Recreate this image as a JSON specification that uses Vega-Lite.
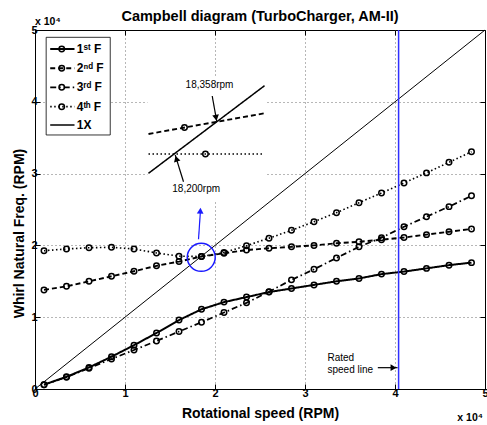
{
  "$schema": "https://vega.github.io/schema/vega-lite/v6.json",
  "width": 450,
  "height": 359,
  "autosize": {"type": "none"},
  "padding": {"left": 35, "top": 30, "right": 2, "bottom": 36},
  "background": "white",
  "title": {"text": "Campbell diagram (TurboCharger, AM-II)", "fontSize": 14.5, "fontWeight": "bold", "color": "black", "frame": "group", "anchor": "middle", "offset": -7},
  "config": {
    "font": "Liberation Sans",
    "view": {"stroke": "black", "strokeWidth": 1},
    "axis": {"domainColor": "black", "tickColor": "black", "labelColor": "black", "titleColor": "black", "labelFontSize": 11, "labelFontWeight": "bold", "titleFontSize": 14, "titleFontWeight": "bold", "labelFlush": false, "labelOverlap": false}
  },
  "datasets": {
    "curves": [
      {"x": 1000, "1st F": 600, "2nd F": 13800, "3rd F": 600, "4th F": 19260},
      {"x": 3500, "1st F": 1700, "2nd F": 14300, "3rd F": 1650, "4th F": 19500},
      {"x": 6000, "1st F": 3000, "2nd F": 15000, "3rd F": 2900, "4th F": 19680},
      {"x": 8500, "1st F": 4500, "2nd F": 15700, "3rd F": 4180, "4th F": 19730},
      {"x": 11000, "1st F": 6100, "2nd F": 16400, "3rd F": 5430, "4th F": 19500},
      {"x": 13500, "1st F": 7800, "2nd F": 17150, "3rd F": 6690, "4th F": 18950},
      {"x": 16000, "1st F": 9600, "2nd F": 17750, "3rd F": 8000, "4th F": 18500},
      {"x": 18500, "1st F": 11100, "2nd F": 18450, "3rd F": 9300, "4th F": 18450},
      {"x": 21000, "1st F": 12100, "2nd F": 18900, "3rd F": 10650, "4th F": 19000},
      {"x": 23500, "1st F": 12800, "2nd F": 19350, "3rd F": 12000, "4th F": 19960},
      {"x": 26000, "1st F": 13500, "2nd F": 19600, "3rd F": 13550, "4th F": 21000},
      {"x": 28500, "1st F": 14000, "2nd F": 19800, "3rd F": 15200, "4th F": 22100},
      {"x": 31000, "1st F": 14500, "2nd F": 20000, "3rd F": 16670, "4th F": 23300},
      {"x": 33500, "1st F": 15000, "2nd F": 20300, "3rd F": 18250, "4th F": 24560},
      {"x": 36000, "1st F": 15400, "2nd F": 20500, "3rd F": 19800, "4th F": 25950},
      {"x": 38500, "1st F": 16000, "2nd F": 20800, "3rd F": 21070, "4th F": 27300},
      {"x": 41000, "1st F": 16350, "2nd F": 21100, "3rd F": 22600, "4th F": 28700},
      {"x": 43500, "1st F": 16800, "2nd F": 21500, "3rd F": 24000, "4th F": 30100},
      {"x": 46000, "1st F": 17250, "2nd F": 21900, "3rd F": 25400, "4th F": 31570},
      {"x": 48500, "1st F": 17600, "2nd F": 22300, "3rd F": 26900, "4th F": 33050}
    ],
    "legend": [
      {"series": "1st F", "label": "1ˢᵗ F", "y": 47350, "x1": 1690, "x2": 4390, "xm": 2970, "xt": 4640},
      {"series": "2nd F", "label": "2ⁿᵈ F", "y": 44670, "x1": 1690, "x2": 4390, "xm": 2970, "xt": 4640},
      {"series": "3rd F", "label": "3ʳᵈ F", "y": 42020, "x1": 1690, "x2": 4390, "xm": 2970, "xt": 4640},
      {"series": "4th F", "label": "4ᵗʰ F", "y": 39320, "x1": 1690, "x2": 4390, "xm": 2970, "xt": 4640},
      {"series": "1X", "label": "1X", "y": 36770, "x1": 1690, "x2": 4390, "xm": 2970, "xt": 4640}
    ],
    "boxes": [
      {"box": "inset", "x": 12500, "x2": 25700, "y": 26300, "y2": 43600},
      {"box": "legend", "x": 1240, "x2": 8360, "y": 35380, "y2": 48980}
    ],
    "inset": [
      {"series": "2nd F", "x": 12610, "y": 35520},
      {"series": "2nd F", "x": 25500, "y": 38400},
      {"series": "4th F", "x": 12610, "y": 32730},
      {"series": "4th F", "x": 25500, "y": 32730},
      {"series": "1X", "x": 12610, "y": 30040},
      {"series": "1X", "x": 25500, "y": 42240}
    ],
    "arrows": [
      {"arrow": "a18358", "colour": "black", "x": 19690, "y": 40810},
      {"arrow": "a18358", "colour": "black", "x": 20200, "y": 37230},
      {"arrow": "a18200", "colour": "black", "x": 16500, "y": 28870},
      {"arrow": "a18200", "colour": "black", "x": 15580, "y": 32590},
      {"arrow": "rated", "colour": "black", "x": 38090, "y": 2970},
      {"arrow": "rated", "colour": "black", "x": 40280, "y": 2970},
      {"arrow": "veer", "colour": "blue", "x": 18170, "y": 20850},
      {"arrow": "veer", "colour": "blue", "x": 18370, "y": 24600}
    ],
    "heads": [
      {"arrow": "a18358", "colour": "black", "x": 20120, "y": 37770, "angle": 170},
      {"arrow": "a18200", "colour": "black", "x": 15710, "y": 32060, "angle": 343},
      {"arrow": "rated", "colour": "black", "x": 39830, "y": 2970, "angle": 90},
      {"arrow": "veer", "colour": "blue", "x": 18370, "y": 24830, "angle": 3.5}
    ],
    "notes": [
      {"label": "18,358rpm", "x": 19390, "y": 42340},
      {"label": "18,200rpm", "x": 17910, "y": 27810},
      {"label": "Rated", "x": 32500, "y": 4280},
      {"label": "speed line", "x": 32500, "y": 2650}
    ],
    "exps": [
      {"label": "x 10⁴", "corner": "top-left", "x": 0, "y": 50000},
      {"label": "x 10⁴", "corner": "bottom-right", "x": 50000, "y": 0}
    ]
  },
  "layer": [
    {
      "data": {"values": [{"x": 0, "y": 0}, {"x": 50000, "y": 50000}]},
      "mark": {"type": "line", "color": "black", "strokeWidth": 1},
      "encoding": {
        "x": {"field": "x", "type": "quantitative", "scale": {"domain": [0, 50000], "nice": false, "zero": false},
          "axis": {"orient": "bottom", "title": "Rotational speed (RPM)", "values": [0, 10000, 20000, 30000, 40000, 50000], "labelExpr": "datum.value / 10000", "grid": true, "gridColor": "#6e6e6e", "gridDash": [1, 3], "gridOpacity": {"condition": {"test": "datum.value == 0 || datum.value == 50000", "value": 0}, "value": 1}, "tickSize": -5, "labelPadding": 3, "titlePadding": 8}},
        "y": {"field": "y", "type": "quantitative", "scale": {"domain": [0, 50000], "nice": false, "zero": false},
          "axis": {"orient": "left", "title": "Whirl Natural Freq. (RPM)", "titleY": 203, "values": [0, 10000, 20000, 30000, 40000, 50000], "labelExpr": "datum.value / 10000", "grid": true, "gridColor": "#6e6e6e", "gridDash": [1, 3], "gridOpacity": {"condition": {"test": "datum.value == 0 || datum.value == 50000", "value": 0}, "value": 1}, "tickSize": -5, "labelPadding": 3, "titlePadding": 4}}
      }
    },
    {
      "data": {"values": [{"x": 0, "y": 0}]},
      "mark": {"type": "point", "opacity": 0},
      "encoding": {
        "x": {"field": "x", "type": "quantitative", "scale": {"domain": [0, 50000], "nice": false, "zero": false}, "axis": {"orient": "top", "labels": false, "title": null, "grid": false, "domain": false, "values": [0, 10000, 20000, 30000, 40000, 50000], "tickSize": -5}},
        "y": {"field": "y", "type": "quantitative", "scale": {"domain": [0, 50000], "nice": false, "zero": false}, "axis": {"orient": "right", "labels": false, "title": null, "grid": false, "domain": false, "values": [0, 10000, 20000, 30000, 40000, 50000], "tickSize": -5}}
      }
    },
    {
      "data": {"name": "boxes"},
      "transform": [{"filter": "datum.box == 'inset'"}],
      "mark": {"type": "rect", "fill": "white", "strokeWidth": 0},
      "encoding": {
        "x": {"field": "x", "type": "quantitative", "scale": {"domain": [0, 50000], "nice": false, "zero": false}, "axis": null},
        "x2": {"field": "x2"},
        "y": {"field": "y", "type": "quantitative", "scale": {"domain": [0, 50000], "nice": false, "zero": false}, "axis": null},
        "y2": {"field": "y2"}
      }
    },
    {
      "data": {"name": "curves"},
      "transform": [{"fold": ["1st F", "2nd F", "3rd F", "4th F"], "as": ["series", "y"]}],
      "mark": {"type": "line", "color": "black"},
      "encoding": {
        "x": {"field": "x", "type": "quantitative", "scale": {"domain": [0, 50000], "nice": false, "zero": false}, "axis": null},
        "y": {"field": "y", "type": "quantitative", "scale": {"domain": [0, 50000], "nice": false, "zero": false}, "axis": null},
        "strokeDash": {"field": "series", "type": "nominal", "scale": {"domain": ["1st F", "2nd F", "3rd F", "4th F", "1X"], "range": [[1, 0], [5, 3], [6, 3, 1.5, 3], [1.5, 2.5], [1, 0]]}, "legend": null},
        "strokeWidth": {"field": "series", "type": "nominal", "scale": {"domain": ["1st F", "2nd F", "3rd F", "4th F", "1X"], "range": [2, 1.5, 1.5, 1.5, 1.2]}, "legend": null}
      }
    },
    {
      "data": {"name": "curves"},
      "transform": [{"fold": ["1st F", "2nd F", "3rd F", "4th F"], "as": ["series", "y"]}],
      "mark": {"type": "point", "shape": "circle", "filled": false, "color": "black", "size": 30, "strokeWidth": 1.5, "opacity": 1},
      "encoding": {
        "x": {"field": "x", "type": "quantitative", "scale": {"domain": [0, 50000], "nice": false, "zero": false}, "axis": null},
        "y": {"field": "y", "type": "quantitative", "scale": {"domain": [0, 50000], "nice": false, "zero": false}, "axis": null}
      }
    },
    {
      "data": {"name": "inset"},
      "mark": {"type": "line", "color": "black"},
      "encoding": {
        "x": {"field": "x", "type": "quantitative", "scale": {"domain": [0, 50000], "nice": false, "zero": false}, "axis": null},
        "y": {"field": "y", "type": "quantitative", "scale": {"domain": [0, 50000], "nice": false, "zero": false}, "axis": null},
        "strokeDash": {"field": "series", "type": "nominal", "legend": null},
        "strokeWidth": {"field": "series", "type": "nominal", "legend": null}
      }
    },
    {
      "data": {"values": [{"x": 16610, "y": 36410}, {"x": 18940, "y": 32730}]},
      "mark": {"type": "point", "shape": "circle", "filled": false, "color": "black", "size": 30, "strokeWidth": 1.5, "opacity": 1},
      "encoding": {
        "x": {"field": "x", "type": "quantitative", "scale": {"domain": [0, 50000], "nice": false, "zero": false}, "axis": null},
        "y": {"field": "y", "type": "quantitative", "scale": {"domain": [0, 50000], "nice": false, "zero": false}, "axis": null}
      }
    },
    {
      "data": {"values": [{"x": 40400, "y": 0, "y2": 50000}]},
      "mark": {"type": "rule", "color": "#3030ff", "strokeWidth": 1.5},
      "encoding": {
        "x": {"field": "x", "type": "quantitative", "scale": {"domain": [0, 50000], "nice": false, "zero": false}, "axis": null},
        "y": {"field": "y", "type": "quantitative", "scale": {"domain": [0, 50000], "nice": false, "zero": false}, "axis": null},
        "y2": {"field": "y2"}
      }
    },
    {
      "data": {"name": "notes"},
      "transform": [{"filter": "datum.label != 'Rated' && datum.label != 'speed line'"}],
      "mark": {"type": "text", "fontSize": 10, "color": "black", "align": "center", "baseline": "middle"},
      "encoding": {
        "x": {"field": "x", "type": "quantitative", "scale": {"domain": [0, 50000], "nice": false, "zero": false}, "axis": null},
        "y": {"field": "y", "type": "quantitative", "scale": {"domain": [0, 50000], "nice": false, "zero": false}, "axis": null},
        "text": {"field": "label"}
      }
    },
    {
      "data": {"name": "notes"},
      "transform": [{"filter": "datum.label == 'Rated' || datum.label == 'speed line'"}],
      "mark": {"type": "text", "fontSize": 10, "color": "black", "align": "left", "baseline": "middle"},
      "encoding": {
        "x": {"field": "x", "type": "quantitative", "scale": {"domain": [0, 50000], "nice": false, "zero": false}, "axis": null},
        "y": {"field": "y", "type": "quantitative", "scale": {"domain": [0, 50000], "nice": false, "zero": false}, "axis": null},
        "text": {"field": "label"}
      }
    },
    {
      "data": {"values": [{"x": 18470, "y": 18340}]},
      "mark": {"type": "point", "shape": "circle", "filled": false, "color": "#1a1aff", "size": 784, "strokeWidth": 1.5, "opacity": 1},
      "encoding": {
        "x": {"field": "x", "type": "quantitative", "scale": {"domain": [0, 50000], "nice": false, "zero": false}, "axis": null},
        "y": {"field": "y", "type": "quantitative", "scale": {"domain": [0, 50000], "nice": false, "zero": false}, "axis": null}
      }
    },
    {
      "data": {"name": "arrows"},
      "mark": {"type": "line", "strokeWidth": 1.2},
      "encoding": {
        "x": {"field": "x", "type": "quantitative", "scale": {"domain": [0, 50000], "nice": false, "zero": false}, "axis": null},
        "y": {"field": "y", "type": "quantitative", "scale": {"domain": [0, 50000], "nice": false, "zero": false}, "axis": null},
        "detail": {"field": "arrow", "type": "nominal"},
        "order": {"field": "y", "type": "quantitative"},
        "color": {"field": "colour", "type": "nominal", "scale": {"domain": ["black", "blue"], "range": ["black", "#1a1aff"]}, "legend": null}
      }
    },
    {
      "data": {"name": "heads"},
      "mark": {"type": "point", "shape": "triangle-up", "filled": true, "size": 45, "opacity": 1},
      "encoding": {
        "x": {"field": "x", "type": "quantitative", "scale": {"domain": [0, 50000], "nice": false, "zero": false}, "axis": null},
        "y": {"field": "y", "type": "quantitative", "scale": {"domain": [0, 50000], "nice": false, "zero": false}, "axis": null},
        "angle": {"field": "angle", "type": "quantitative", "scale": null},
        "color": {"field": "colour", "type": "nominal", "scale": {"domain": ["black", "blue"], "range": ["black", "#1a1aff"]}, "legend": null}
      }
    },
    {
      "data": {"name": "boxes"},
      "transform": [{"filter": "datum.box == 'legend'"}],
      "mark": {"type": "rect", "fill": "white", "stroke": "black", "strokeWidth": 0.8},
      "encoding": {
        "x": {"field": "x", "type": "quantitative", "scale": {"domain": [0, 50000], "nice": false, "zero": false}, "axis": null},
        "x2": {"field": "x2"},
        "y": {"field": "y", "type": "quantitative", "scale": {"domain": [0, 50000], "nice": false, "zero": false}, "axis": null},
        "y2": {"field": "y2"}
      }
    },
    {
      "data": {"name": "legend"},
      "mark": {"type": "rule", "color": "black"},
      "encoding": {
        "x": {"field": "x1", "type": "quantitative", "scale": {"domain": [0, 50000], "nice": false, "zero": false}, "axis": null},
        "x2": {"field": "x2"},
        "y": {"field": "y", "type": "quantitative", "scale": {"domain": [0, 50000], "nice": false, "zero": false}, "axis": null},
        "strokeDash": {"field": "series", "type": "nominal", "legend": null},
        "strokeWidth": {"field": "series", "type": "nominal", "legend": null}
      }
    },
    {
      "data": {"name": "legend"},
      "transform": [{"filter": "datum.series != '1X'"}],
      "mark": {"type": "point", "shape": "circle", "filled": false, "color": "black", "size": 30, "strokeWidth": 1.5, "opacity": 1},
      "encoding": {
        "x": {"field": "xm", "type": "quantitative", "scale": {"domain": [0, 50000], "nice": false, "zero": false}, "axis": null},
        "y": {"field": "y", "type": "quantitative", "scale": {"domain": [0, 50000], "nice": false, "zero": false}, "axis": null}
      }
    },
    {
      "data": {"name": "legend"},
      "mark": {"type": "text", "fontSize": 12, "fontWeight": "bold", "color": "black", "align": "left", "baseline": "middle"},
      "encoding": {
        "x": {"field": "xt", "type": "quantitative", "scale": {"domain": [0, 50000], "nice": false, "zero": false}, "axis": null},
        "y": {"field": "y", "type": "quantitative", "scale": {"domain": [0, 50000], "nice": false, "zero": false}, "axis": null},
        "text": {"field": "label"}
      }
    },
    {
      "data": {"name": "exps"},
      "transform": [{"filter": "datum.corner == 'top-left'"}],
      "mark": {"type": "text", "fontSize": 10.5, "fontWeight": "bold", "color": "black", "align": "left", "baseline": "alphabetic", "dy": -5},
      "encoding": {
        "x": {"field": "x", "type": "quantitative", "scale": {"domain": [0, 50000], "nice": false, "zero": false}, "axis": null},
        "y": {"field": "y", "type": "quantitative", "scale": {"domain": [0, 50000], "nice": false, "zero": false}, "axis": null},
        "text": {"field": "label"}
      }
    },
    {
      "data": {"name": "exps"},
      "transform": [{"filter": "datum.corner == 'bottom-right'"}],
      "mark": {"type": "text", "fontSize": 10.5, "fontWeight": "bold", "color": "black", "align": "right", "baseline": "alphabetic", "dy": 32, "dx": -2},
      "encoding": {
        "x": {"field": "x", "type": "quantitative", "scale": {"domain": [0, 50000], "nice": false, "zero": false}, "axis": null},
        "y": {"field": "y", "type": "quantitative", "scale": {"domain": [0, 50000], "nice": false, "zero": false}, "axis": null},
        "text": {"field": "label"}
      }
    }
  ],
  "resolve": {"axis": {"x": "independent", "y": "independent"}}
}
